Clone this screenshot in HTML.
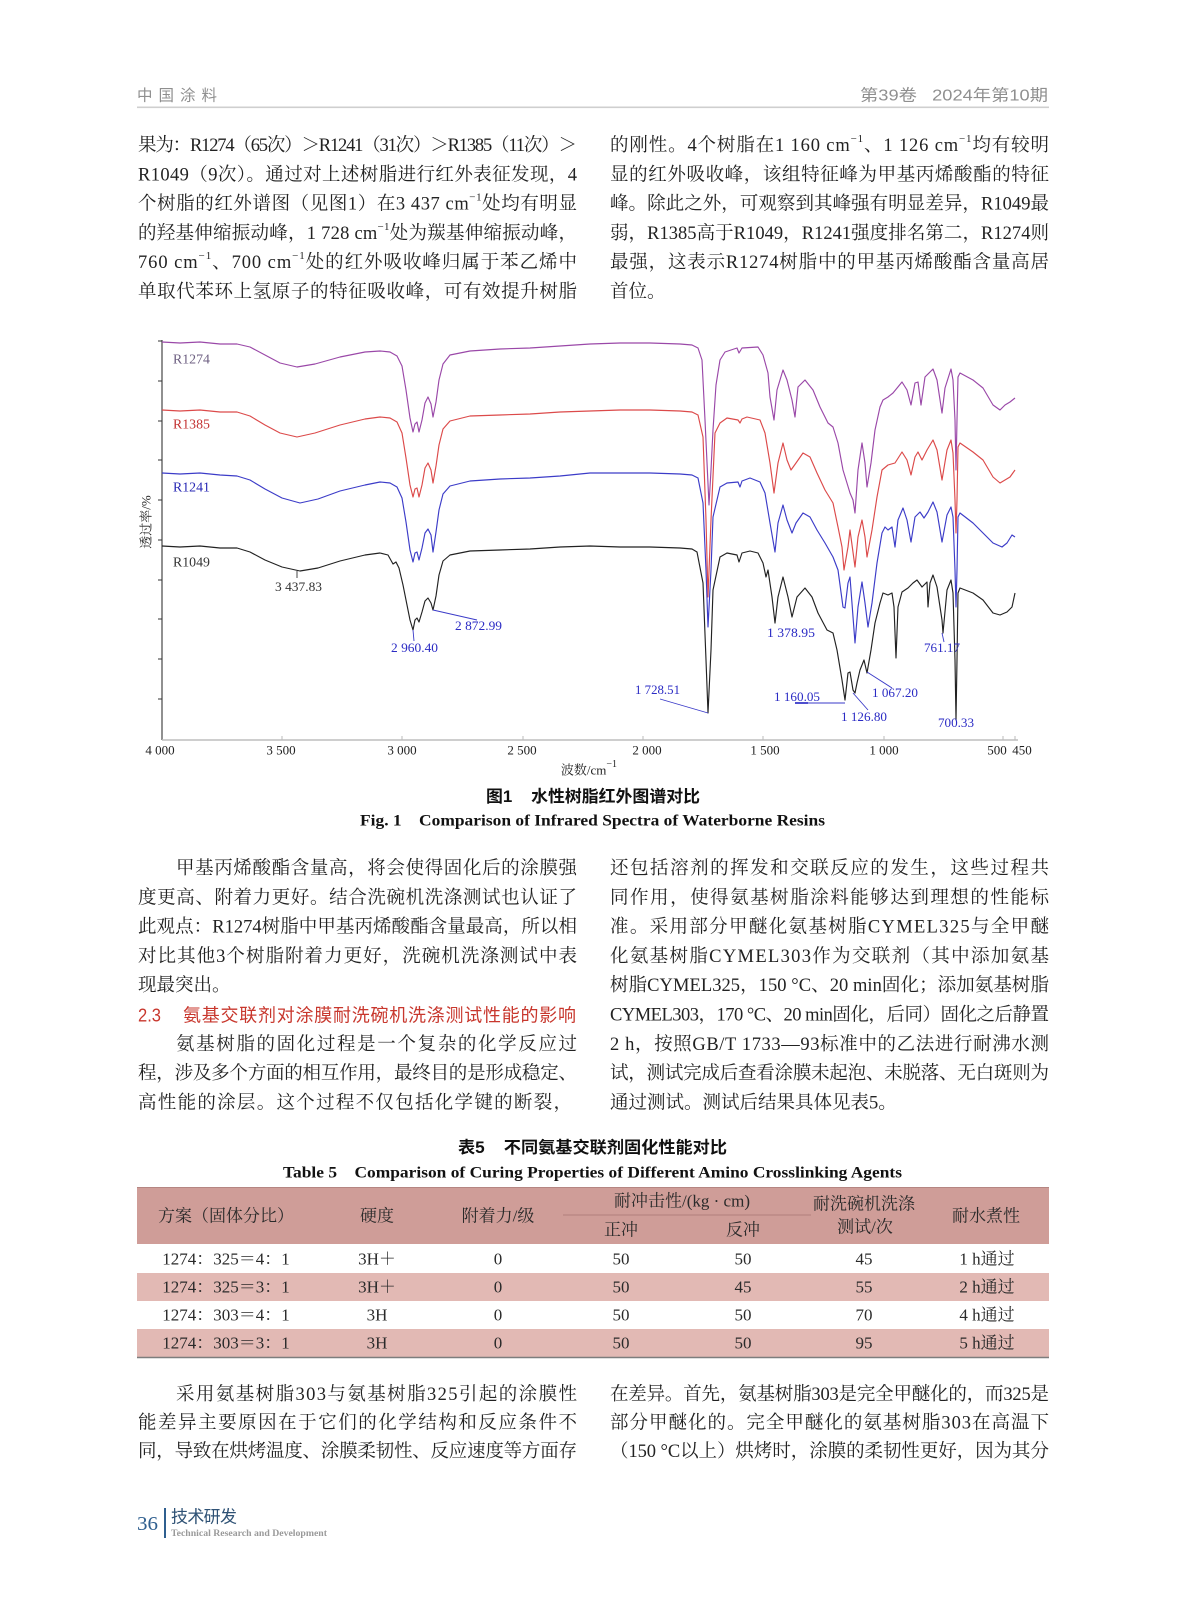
<!DOCTYPE html>
<html><head><meta charset="utf-8">
<style>
html,body{margin:0;padding:0;background:#fff}
svg{display:block}
text{dominant-baseline:central}
.b{font-family:"Liberation Serif","Noto Serif CJK SC",serif;font-size:18.5px;fill:#222}
.hs{font-family:"Liberation Sans","Noto Sans CJK SC",sans-serif}
.t{font-family:"Liberation Serif","Noto Serif CJK SC",serif;font-size:13px;fill:#222}
.lb{font-family:"Liberation Serif","Noto Serif CJK SC",serif;font-size:12.5px;fill:#2b2bc4}
.tb{font-family:"Liberation Serif","Noto Serif CJK SC",serif;font-size:17px;fill:#2a2a2a}
.cap{font-family:"Liberation Sans","Noto Sans CJK SC",sans-serif;font-weight:700;font-size:16.5px;fill:#111}
.capE{font-family:"Liberation Serif","Noto Serif CJK SC",serif;font-weight:700;font-size:16px;fill:#111}
</style></head>
<body>
<svg width="1187" height="1600" viewBox="0 0 1187 1600" xmlns="http://www.w3.org/2000/svg">
<rect width="1187" height="1600" fill="#fff"/>

<!-- Header -->
<text class="hs" x="137" y="96" font-size="15.5" fill="#8f8f8f" textLength="80" lengthAdjust="spacing">中国涂料</text>
<text class="hs" x="860" y="96" font-size="16" fill="#8f8f8f" textLength="188" lengthAdjust="spacingAndGlyphs">第39卷&#160;&#160;&#160;2024年第10期</text>
<rect x="137" y="106.5" width="912" height="1.6" fill="#cfcfcf"/>

<!-- Top paragraphs left -->
<text class="b" x="138" y="146" textLength="439" lengthAdjust="spacing">果为：R1274（65次）＞R1241（31次）＞R1385（11次）＞</text>
<text class="b" x="138" y="175.3" textLength="439" lengthAdjust="spacing">R1049（9次）。通过对上述树脂进行红外表征发现，4</text>
<text class="b" x="138" y="204.6" textLength="439" lengthAdjust="spacing">个树脂的红外谱图（见图1）在3 437 cm<tspan font-size="11" dy="-7">−1</tspan><tspan dy="7">处均有明显</tspan></text>
<text class="b" x="138" y="233.9" textLength="439" lengthAdjust="spacing">的羟基伸缩振动峰，1 728 cm<tspan font-size="11" dy="-7">−1</tspan><tspan dy="7">处为羰基伸缩振动峰，</tspan></text>
<text class="b" x="138" y="263.2" textLength="439" lengthAdjust="spacing">760 cm<tspan font-size="11" dy="-7">−1</tspan><tspan dy="7">、700 cm</tspan><tspan font-size="11" dy="-7">−1</tspan><tspan dy="7">处的红外吸收峰归属于苯乙烯中</tspan></text>
<text class="b" x="138" y="292.5" textLength="439" lengthAdjust="spacing">单取代苯环上氢原子的特征吸收峰，可有效提升树脂</text>

<!-- Top paragraphs right -->
<text class="b" x="610" y="146" textLength="439" lengthAdjust="spacing">的刚性。4个树脂在1 160 cm<tspan font-size="11" dy="-7">−1</tspan><tspan dy="7">、1 126 cm</tspan><tspan font-size="11" dy="-7">−1</tspan><tspan dy="7">均有较明</tspan></text>
<text class="b" x="610" y="175.3" textLength="439" lengthAdjust="spacing">显的红外吸收峰，该组特征峰为甲基丙烯酸酯的特征</text>
<text class="b" x="610" y="204.6" textLength="439" lengthAdjust="spacing">峰。除此之外，可观察到其峰强有明显差异，R1049最</text>
<text class="b" x="610" y="233.9" textLength="439" lengthAdjust="spacing">弱，R1385高于R1049，R1241强度排名第二，R1274则</text>
<text class="b" x="610" y="263.2" textLength="439" lengthAdjust="spacing">最强，这表示R1274树脂中的甲基丙烯酸酯含量高居</text>
<text class="b" x="610" y="292.5">首位。</text>

<!-- Chart axes -->
<line x1="162" y1="340" x2="162" y2="740" stroke="#222" stroke-width="1"/>
<line x1="162" y1="740" x2="1018" y2="740" stroke="#bdbdbd" stroke-width="1.6"/>
<g stroke="#333" stroke-width="1">
<line x1="158" y1="341" x2="162" y2="341"/><line x1="158" y1="381" x2="162" y2="381"/>
<line x1="158" y1="421" x2="162" y2="421"/><line x1="158" y1="460" x2="162" y2="460"/>
<line x1="158" y1="500" x2="162" y2="500"/><line x1="158" y1="540" x2="162" y2="540"/>
<line x1="158" y1="580" x2="162" y2="580"/><line x1="158" y1="619" x2="162" y2="619"/>
<line x1="158" y1="659" x2="162" y2="659"/><line x1="158" y1="699" x2="162" y2="699"/>
</g>
<g stroke="#bbb" stroke-width="1">
<line x1="282" y1="736" x2="282" y2="740"/><line x1="402" y1="736" x2="402" y2="740"/>
<line x1="523" y1="736" x2="523" y2="740"/><line x1="643" y1="736" x2="643" y2="740"/>
<line x1="763" y1="736" x2="763" y2="740"/><line x1="884" y1="736" x2="884" y2="740"/>
<line x1="1003" y1="736" x2="1003" y2="740"/><line x1="1015" y1="736" x2="1015" y2="740"/>
</g>
<g class="t" text-anchor="middle">
<text x="160" y="750">4 000</text><text x="281" y="750">3 500</text><text x="402" y="750">3 000</text>
<text x="522" y="750">2 500</text><text x="647" y="750">2 000</text><text x="765" y="750">1 500</text>
<text x="884" y="750">1 000</text><text x="997" y="750">500</text><text x="1022" y="750">450</text>
</g>
<text class="t" x="589" y="770" text-anchor="middle" font-size="14">波数/cm<tspan font-size="10" dy="-6">−1</tspan></text>
<text class="t" font-size="14" transform="translate(146,522) rotate(-90)" text-anchor="middle">透过率/%</text>

<!-- Curves -->
<g fill="none" stroke-width="1.15" stroke-linejoin="round">
<polyline stroke="#9a48a8" points="162,342 180,343 200,342 220,344 237,344 250,347 265,355 280,363 297,367 315,364 340,357 365,352 380,351 390,352 397,356 402,366 406,390 410,418 413,432 415,424 417,422 419,432 422,420 425,403 428,397 431,404 433,417 436,402 439,380 443,364 450,355 470,351 500,349 530,348 560,346 590,344 620,343 650,343 680,344 692,345 698,348 702,360 705,420 709,505 711,470 713,430 716,385 720,360 725,352 737,348 739,353 742,348 758,347 763,355 768,373 770,397 774,420 777,390 783,370 787,380 792,400 795,417 798,387 805,380 813,390 820,407 828,423 833,427 838,443 843,470 850,493 853,500 855,513 858,470 862,443 865,463 867,487 871,463 875,430 880,407 883,400 888,397 893,393 902,382 907,390 911,405 915,383 918,382 921,405 925,377 933,369 937,380 942,413 945,388 951,369 953,380 955,420 956,470 957,420 958,377 960,373 973,380 983,388 993,405 1000,410 1005,405 1010,402 1015,398"/>
<polyline stroke="#dc4a4a" points="162,410 180,411 200,410 220,412 237,412 250,416 265,425 280,433 297,437 315,433 340,425 365,419 380,417 390,418 397,422 402,433 406,458 410,485 413,497 415,489 417,488 419,497 422,485 425,468 428,463 431,470 433,483 436,466 439,445 443,429 450,421 470,416 500,415 530,414 560,412 590,411 620,410 650,410 680,411 692,412 698,415 703,437 706,520 708,597 711,520 715,433 720,423 727,418 738,420 740,423 742,419 747,417 760,420 765,433 770,463 774,493 778,463 783,443 787,460 791,470 796,463 803,453 810,457 817,473 825,490 833,503 838,527 842,547 844,570 848,547 850,530 855,567 858,537 862,520 865,537 867,557 872,530 877,497 882,470 888,465 895,463 902,452 907,460 911,475 915,457 918,452 922,460 927,450 933,440 937,450 942,480 947,450 951,440 953,453 955,500 956,533 957,500 958,447 960,443 973,452 983,460 993,477 1000,483 1005,480 1010,477 1015,470"/>
<polyline stroke="#3c3cc8" points="162,473 180,474 200,473 220,475 237,476 250,480 265,489 282,498 300,503 318,499 340,491 365,485 380,482 390,483 397,487 402,498 406,522 410,550 413,562 415,553 417,552 419,560 422,548 425,533 428,529 431,535 433,552 436,532 439,510 443,494 450,486 470,481 500,479 530,478 560,476 590,473 620,473 650,473 680,474 692,475 698,478 703,503 706,570 708,627 711,570 713,517 720,487 727,483 738,482 740,487 742,481 750,478 760,482 765,493 770,523 775,552 778,523 783,505 787,520 792,533 796,523 803,513 810,517 817,530 825,543 833,557 838,570 843,607 845,608 848,583 850,577 855,643 858,607 862,582 865,603 868,627 872,603 877,563 882,533 885,527 888,530 892,527 895,547 898,520 903,508 907,520 911,542 915,517 920,512 924,518 928,512 933,502 937,512 942,542 947,515 951,507 953,517 955,570 956,607 957,570 958,517 960,513 973,523 983,533 993,543 1002,547 1007,543 1012,535 1015,537"/>
<polyline stroke="#222" points="162,546 180,547 200,546 220,548 237,548 250,552 265,560 282,567 300,571 318,568 340,561 365,555 380,553 388,555 393,564 396,562 399,568 403,585 407,605 410,620 413,630 415,620 417,618 419,622 422,612 425,601 428,598 431,603 433,610 436,596 439,575 443,561 450,555 470,551 500,550 530,549 560,547 590,546 620,547 650,547 680,548 692,549 697,552 703,583 706,660 708,713 711,650 713,590 720,557 727,553 737,555 739,562 742,553 750,551 758,553 763,563 766,577 768,570 772,597 775,623 778,597 783,577 788,597 792,617 797,597 805,588 812,597 818,613 827,630 833,633 837,650 842,680 845,700 848,673 850,672 853,690 855,693 857,683 860,670 864,660 867,673 871,650 875,623 880,603 883,593 888,595 892,593 894,607 896,658 898,607 902,592 908,588 913,583 917,580 922,587 927,582 928,607 930,583 933,575 937,587 942,620 943,633 947,590 951,580 953,593 955,660 956,720 957,660 958,593 960,588 973,593 983,600 993,613 1000,615 1007,612 1012,607 1015,593"/>
</g>

<!-- Series labels -->
<g font-family="Liberation Serif, serif" font-size="13.5">
<text x="173" y="359" fill="#6c5e80" textLength="37" lengthAdjust="spacingAndGlyphs">R1274</text>
<text x="173" y="424" fill="#c33232" textLength="37" lengthAdjust="spacingAndGlyphs">R1385</text>
<text x="173" y="487" fill="#2828b4" textLength="37" lengthAdjust="spacingAndGlyphs">R1241</text>
<text x="173" y="562" fill="#333" textLength="37" lengthAdjust="spacingAndGlyphs">R1049</text>
</g>

<!-- Peak labels and leader lines -->
<g stroke="#3a3ac8" stroke-width="0.9" fill="none">
<line x1="297" y1="571" x2="297" y2="578" stroke="#333"/>
<line x1="413" y1="630" x2="414" y2="641"/>
<line x1="433" y1="610" x2="477" y2="620"/>
<line x1="660" y1="699" x2="708" y2="713"/>
<line x1="795" y1="703" x2="845" y2="703"/>
<line x1="795" y1="703" x2="808" y2="703" stroke-width="1.8"/>
<line x1="853" y1="693" x2="868" y2="710"/>
<line x1="867" y1="672" x2="892" y2="688"/>
<line x1="942" y1="633" x2="944" y2="642"/>
</g>
<text class="lb" x="275" y="587" style="fill:#333" textLength="47" lengthAdjust="spacingAndGlyphs">3 437.83</text>
<text class="lb" x="455" y="626" textLength="47" lengthAdjust="spacingAndGlyphs">2 872.99</text>
<text class="lb" x="391" y="648" textLength="47" lengthAdjust="spacingAndGlyphs">2 960.40</text>
<text class="lb" x="635" y="690" textLength="45" lengthAdjust="spacingAndGlyphs">1 728.51</text>
<text class="lb" x="767" y="633" textLength="48" lengthAdjust="spacingAndGlyphs">1 378.95</text>
<text class="lb" x="774" y="697" textLength="46" lengthAdjust="spacingAndGlyphs">1 160.05</text>
<text class="lb" x="841" y="717" textLength="46" lengthAdjust="spacingAndGlyphs">1 126.80</text>
<text class="lb" x="872" y="693" textLength="46" lengthAdjust="spacingAndGlyphs">1 067.20</text>
<text class="lb" x="924" y="648" textLength="36" lengthAdjust="spacingAndGlyphs">761.17</text>
<text class="lb" x="938" y="723" textLength="36" lengthAdjust="spacingAndGlyphs">700.33</text>

<!-- Figure captions -->
<text class="cap" x="486" y="797" textLength="214" lengthAdjust="spacingAndGlyphs">图1&#160;&#160;&#160;&#160;水性树脂红外图谱对比</text>
<text class="capE" x="360" y="821" textLength="465" lengthAdjust="spacingAndGlyphs">Fig. 1&#160;&#160;&#160;&#160;Comparison of Infrared Spectra of Waterborne Resins</text>

<!-- Middle paragraphs left -->
<text class="b" x="176" y="869" textLength="401" lengthAdjust="spacing">甲基丙烯酸酯含量高，将会使得固化后的涂膜强</text>
<text class="b" x="138" y="898.3" textLength="439" lengthAdjust="spacing">度更高、附着力更好。结合洗碗机洗涤测试也认证了</text>
<text class="b" x="138" y="927.6" textLength="439" lengthAdjust="spacing">此观点：R1274树脂中甲基丙烯酸酯含量最高，所以相</text>
<text class="b" x="138" y="956.9" textLength="439" lengthAdjust="spacing">对比其他3个树脂附着力更好，洗碗机洗涤测试中表</text>
<text class="b" x="138" y="986.2">现最突出。</text>
<text class="hs" x="138" y="1015.5" font-size="18" fill="#c8372d" textLength="23" lengthAdjust="spacingAndGlyphs">2.3</text>
<text class="hs" x="183" y="1015.5" font-size="18" fill="#c8372d" textLength="393" lengthAdjust="spacing">氨基交联剂对涂膜耐洗碗机洗涤测试性能的影响</text>
<text class="b" x="176" y="1044.8" textLength="401" lengthAdjust="spacing">氨基树脂的固化过程是一个复杂的化学反应过</text>
<text class="b" x="138" y="1074.1" textLength="439" lengthAdjust="spacing">程，涉及多个方面的相互作用，最终目的是形成稳定、</text>
<text class="b" x="138" y="1103.4" textLength="434" lengthAdjust="spacing">高性能的涂层。这个过程不仅包括化学键的断裂，</text>

<!-- Middle paragraphs right -->
<text class="b" x="610" y="869" textLength="439" lengthAdjust="spacing">还包括溶剂的挥发和交联反应的发生，这些过程共</text>
<text class="b" x="610" y="898.3" textLength="439" lengthAdjust="spacing">同作用，使得氨基树脂涂料能够达到理想的性能标</text>
<text class="b" x="610" y="927.6" textLength="439" lengthAdjust="spacing">准。采用部分甲醚化氨基树脂CYMEL325与全甲醚</text>
<text class="b" x="610" y="956.9" textLength="439" lengthAdjust="spacing">化氨基树脂CYMEL303作为交联剂（其中添加氨基</text>
<text class="b" x="610" y="986.2" textLength="439" lengthAdjust="spacing">树脂CYMEL325，150 °C、20 min固化；添加氨基树脂</text>
<text class="b" x="610" y="1015.5" textLength="439" lengthAdjust="spacing">CYMEL303，170 °C、20 min固化，后同）固化之后静置</text>
<text class="b" x="610" y="1044.8" textLength="439" lengthAdjust="spacing">2 h，按照GB/T 1733—93标准中的乙法进行耐沸水测</text>
<text class="b" x="610" y="1074.1" textLength="439" lengthAdjust="spacing">试，测试完成后查看涂膜未起泡、未脱落、无白斑则为</text>
<text class="b" x="610" y="1103.4">通过测试。测试后结果具体见表5。</text>

<!-- Table captions -->
<text class="cap" x="458" y="1148" textLength="269" lengthAdjust="spacingAndGlyphs">表5&#160;&#160;&#160;&#160;不同氨基交联剂固化性能对比</text>
<text class="capE" x="283" y="1173" textLength="619" lengthAdjust="spacingAndGlyphs">Table 5&#160;&#160;&#160;&#160;Comparison of Curing Properties of Different Amino Crosslinking Agents</text>

<!-- Table -->
<rect x="137" y="1187" width="912" height="57" fill="#cf9d98"/>
<line x1="137" y1="1187.5" x2="1049" y2="1187.5" stroke="#b58682" stroke-width="1"/>
<rect x="137" y="1273" width="912" height="28" fill="#e2b9b4"/>
<rect x="137" y="1329" width="912" height="28" fill="#e2b9b4"/>
<line x1="137" y1="1357.5" x2="1049" y2="1357.5" stroke="#7d7d7d" stroke-width="1.5"/>
<line x1="563" y1="1215" x2="811" y2="1215" stroke="#b07f7b" stroke-width="1"/>

<g class="tb" text-anchor="middle">
<text x="226" y="1216">方案（固体分比）</text>
<text x="377" y="1216">硬度</text>
<text x="498" y="1216">附着力/级</text>
<text x="682" y="1201">耐冲击性/(kg · cm)</text>
<text x="621" y="1230">正冲</text>
<text x="743" y="1230">反冲</text>
<text x="864" y="1204">耐洗碗机洗涤</text>
<text x="865" y="1227">测试/次</text>
<text x="986" y="1216">耐水煮性</text>

<text x="226" y="1259">1274：325＝4：1</text><text x="377" y="1259">3H＋</text><text x="498" y="1259">0</text><text x="621" y="1259">50</text><text x="743" y="1259">50</text><text x="864" y="1259">45</text><text x="987" y="1259">1 h通过</text>
<text x="226" y="1287">1274：325＝3：1</text><text x="377" y="1287">3H＋</text><text x="498" y="1287">0</text><text x="621" y="1287">50</text><text x="743" y="1287">45</text><text x="864" y="1287">55</text><text x="987" y="1287">2 h通过</text>
<text x="226" y="1315">1274：303＝4：1</text><text x="377" y="1315">3H</text><text x="498" y="1315">0</text><text x="621" y="1315">50</text><text x="743" y="1315">50</text><text x="864" y="1315">70</text><text x="987" y="1315">4 h通过</text>
<text x="226" y="1343">1274：303＝3：1</text><text x="377" y="1343">3H</text><text x="498" y="1343">0</text><text x="621" y="1343">50</text><text x="743" y="1343">50</text><text x="864" y="1343">95</text><text x="987" y="1343">5 h通过</text>
</g>

<!-- Lower paragraphs -->
<text class="b" x="176" y="1395" textLength="401" lengthAdjust="spacing">采用氨基树脂303与氨基树脂325引起的涂膜性</text>
<text class="b" x="138" y="1423.5" textLength="439" lengthAdjust="spacing">能差异主要原因在于它们的化学结构和反应条件不</text>
<text class="b" x="138" y="1452" textLength="439" lengthAdjust="spacing">同，导致在烘烤温度、涂膜柔韧性、反应速度等方面存</text>
<text class="b" x="610" y="1395" textLength="439" lengthAdjust="spacing">在差异。首先，氨基树脂303是完全甲醚化的，而325是</text>
<text class="b" x="610" y="1423.5" textLength="439" lengthAdjust="spacing">部分甲醚化的。完全甲醚化的氨基树脂303在高温下</text>
<text class="b" x="610" y="1452" textLength="439" lengthAdjust="spacing">（150 °C以上）烘烤时，涂膜的柔韧性更好，因为其分</text>

<!-- Footer -->
<text x="137" y="1524" font-family="Liberation Serif, serif" font-size="20" fill="#2f5f8f" textLength="21" lengthAdjust="spacingAndGlyphs">36</text>
<rect x="164" y="1508" width="2" height="30" fill="#2f5f8f"/>
<text class="hs" x="171" y="1517" font-size="17" fill="#2f5275" textLength="66" lengthAdjust="spacing">技术研发</text>
<text x="171" y="1534" font-family="Liberation Serif, serif" font-weight="700" font-size="9.5" fill="#9a9a9a" textLength="156" lengthAdjust="spacingAndGlyphs">Technical Research and Development</text>
</svg>
</body></html>
